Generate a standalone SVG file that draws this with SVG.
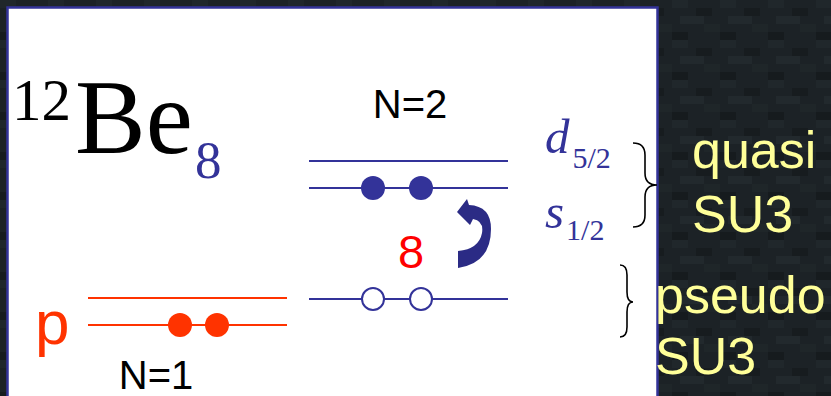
<svg xmlns="http://www.w3.org/2000/svg" width="831" height="396" viewBox="0 0 831 396">
<style>
.times{font-family:"Liberation Serif","Times New Roman",serif}
.arial{font-family:"Liberation Sans",Arial,sans-serif}
.blv{stroke:#333399;stroke-width:2;fill:none}
.rdl{stroke:#ff3300;stroke-width:2;fill:none}
.brace{stroke:#000;stroke-width:1.6;fill:none}
.yel{fill:#ffff99;font-size:52px}
</style>
<defs>
<pattern id="tex" width="48" height="40" patternUnits="userSpaceOnUse">
<rect width="48" height="40" fill="#1c2226"/>
<rect x="0" y="0" width="16" height="8" fill="#20272b"/>
<rect x="24" y="8" width="16" height="8" fill="#171c1f"/>
<rect x="8" y="16" width="24" height="8" fill="#22292d"/>
<rect x="32" y="24" width="16" height="8" fill="#1f2629"/>
<rect x="0" y="32" width="16" height="8" fill="#161b1e"/>
</pattern>
</defs>
<rect width="831" height="396" fill="url(#tex)"/>
<rect x="7.5" y="7.5" width="650" height="400" fill="#ffffff" stroke="#333399" stroke-width="2.5"/>

<g id="title">
<text class="times" x="12" y="120" font-size="59" fill="#000">12</text>
<text class="times" x="75" y="153" font-size="106" fill="#000">Be</text>
<text class="times" x="195" y="178" font-size="53" fill="#333399">8</text>
</g>

<g id="n2-label"><text class="arial" x="410" y="118" font-size="40" text-anchor="middle" fill="#000">N=2</text></g>
<g id="n1-label"><text class="arial" x="156" y="389" font-size="40" text-anchor="middle" fill="#000">N=1</text></g>

<g id="d52">
<line class="blv" x1="309" y1="161" x2="508" y2="161"/>
<text class="times" x="545" y="153" font-size="49" font-style="italic" fill="#333399">d<tspan font-size="30" font-style="normal" dx="3" dy="15">5/2</tspan></text>
</g>

<g id="s12">
<line class="blv" x1="309" y1="188" x2="508" y2="188"/>
<circle cx="373" cy="188" r="12" fill="#333399"/>
<circle cx="421" cy="188" r="12" fill="#333399"/>
<text class="times" x="545" y="228" font-size="49" font-style="italic" fill="#333399">s<tspan font-size="30" font-style="normal" dx="2" dy="12">1/2</tspan></text>
</g>

<g id="p-shell-n">
<line class="blv" x1="309" y1="299" x2="508" y2="299"/>
<circle cx="373" cy="299" r="11" fill="#fff" stroke="#333399" stroke-width="2"/>
<circle cx="421" cy="299" r="11" fill="#fff" stroke="#333399" stroke-width="2"/>
</g>

<g id="p-shell-p">
<text class="arial" x="35" y="344" font-size="62" fill="#ff3300">p</text>
<line class="rdl" x1="88" y1="298" x2="287" y2="298"/>
<line class="rdl" x1="88" y1="325" x2="287" y2="325"/>
<circle cx="180" cy="325" r="12" fill="#ff3300"/>
<circle cx="217" cy="325" r="12" fill="#ff3300"/>
</g>

<g id="eight"><text class="arial" x="411" y="268" font-size="47" text-anchor="middle" fill="#ff0000">8</text></g>

<g id="connectors">
<path d="M458,268 L458,251 Q479,249 482,233 Q484,221 473,219 L470,225 L457,212 L467,199 L469,205 Q491,206 491,229 Q491,263 458,268 Z" fill="#2b2b85"/>
</g>

<g id="quasi">
<path class="brace" d="M633,143 Q645,143 645,155 L645,173 Q645,185 657,185 Q645,185 645,197 L645,215 Q645,227 633,227"/>
<text class="arial yel" x="692" y="168">quasi</text>
<text class="arial yel" x="692" y="232">SU3</text>
</g>

<g id="pseudo">
<path class="brace" d="M620,265 Q627,265 627,275 L627,292 Q627,302 633,302 Q627,302 627,312 L627,327 Q627,337 620,337"/>
<text class="arial yel" x="655" y="313">pseudo</text>
<text class="arial yel" x="655" y="374">SU3</text>
</g>
</svg>
